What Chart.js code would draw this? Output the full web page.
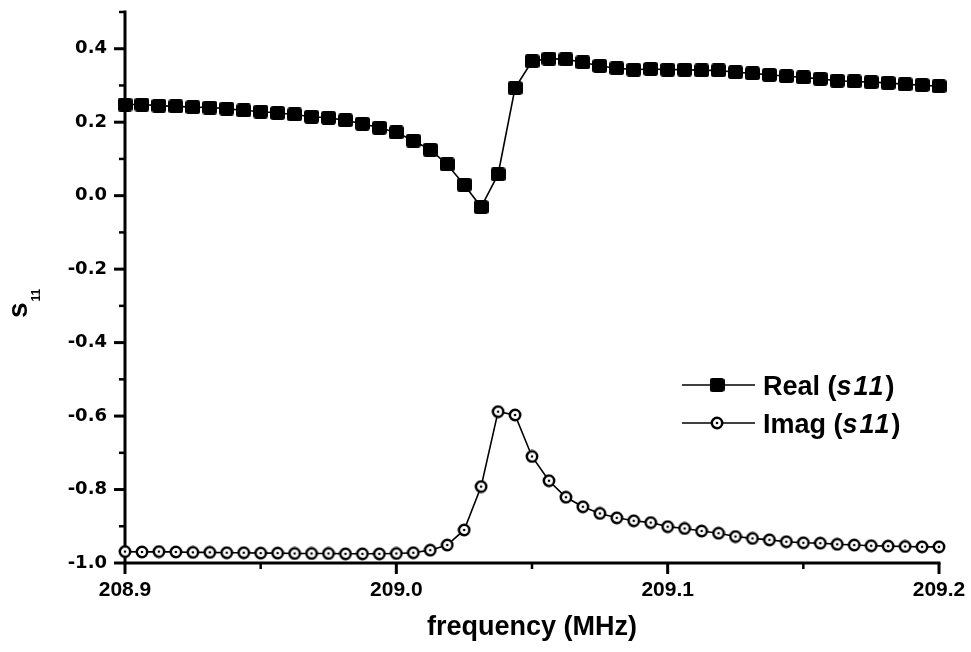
<!DOCTYPE html>
<html lang="en">
<head>
<meta charset="UTF-8">
<title>s11 vs frequency</title>
<script src="https://cdn.jsdelivr.net/npm/chart.js"></script>
<style>
  html, body { margin: 0; padding: 0; background: #fff; }
  #wrap { width: 971px; height: 652px; }
</style>
</head>
<body>
<div id="wrap"><canvas id="s11Chart" width="971" height="652"></canvas></div>
<script>
// frequency sweep (MHz)
const freq = [
  208.9, 208.90625, 208.9125, 208.91875, 208.925, 208.93125, 208.9375, 208.94375,
  208.95, 208.95625, 208.9625, 208.96875, 208.975, 208.98125, 208.9875, 208.99375,
  209.0, 209.00625, 209.0125, 209.01875, 209.025, 209.03125, 209.0375, 209.04375,
  209.05, 209.05625, 209.0625, 209.06875, 209.075, 209.08125, 209.0875, 209.09375,
  209.1, 209.10625, 209.1125, 209.11875, 209.125, 209.13125, 209.1375, 209.14375,
  209.15, 209.15625, 209.1625, 209.16875, 209.175, 209.18125, 209.1875, 209.19375,
  209.2
];

const realS11 = [
  0.248, 0.248, 0.245, 0.243, 0.241, 0.240, 0.237, 0.232,
  0.229, 0.225, 0.221, 0.215, 0.212, 0.205, 0.196, 0.185,
  0.172, 0.150, 0.125, 0.085, 0.030, -0.031, 0.058, 0.293,
  0.366, 0.373, 0.371, 0.363, 0.353, 0.347, 0.343, 0.345,
  0.343, 0.343, 0.341, 0.341, 0.336, 0.333, 0.329, 0.325,
  0.322, 0.318, 0.313, 0.311, 0.309, 0.307, 0.303, 0.301,
  0.298
];

const imagS11 = [
  -0.969, -0.970, -0.969, -0.970, -0.971, -0.971, -0.972, -0.972,
  -0.973, -0.973, -0.974, -0.974, -0.974, -0.975, -0.975, -0.975,
  -0.974, -0.972, -0.965, -0.951, -0.910, -0.792, -0.588, -0.597,
  -0.710, -0.776, -0.821, -0.847, -0.865, -0.877, -0.885, -0.890,
  -0.901, -0.906, -0.913, -0.919, -0.928, -0.933, -0.937, -0.942,
  -0.945, -0.946, -0.949, -0.951, -0.953, -0.954, -0.955, -0.956,
  -0.956
];

const xTickLabels = ['208.9', '209.0', '209.1', '209.2'];
const yTickLabels = ['-1.0', '-0.8', '-0.6', '-0.4', '-0.2', '0.0', '0.2', '0.4'];

const ARIAL = '"Liberation Sans", Arial, sans-serif';

// major ticks get a label, minor ones get ''
function labelFor(value, labels) {
  const hit = labels.find(l => Math.abs(parseFloat(l) - value) < 1e-6);
  return hit === undefined ? '' : hit;
}

// filled square marker with soft corners
const squareImg = document.createElement('canvas');
squareImg.width = 15; squareImg.height = 14;
(() => {
  const c = squareImg.getContext('2d');
  c.fillStyle = '#000';
  c.beginPath();
  c.roundRect(0, 0, 15, 14, 3);
  c.fill();
})();

// open circle with a dot in the middle
const circleImg = document.createElement('canvas');
circleImg.width = 14; circleImg.height = 14;
(() => {
  const c = circleImg.getContext('2d');
  c.fillStyle = '#fff';
  c.strokeStyle = '#000';
  c.lineWidth = 2.5;
  c.beginPath();
  c.arc(7, 7, 5.2, 0, Math.PI * 2);
  c.fill();
  c.stroke();
  c.fillStyle = '#000';
  c.beginPath();
  c.arc(7, 7, 1.3, 0, Math.PI * 2);
  c.fill();
})();

// axis lines + major/minor tick marks pointing outward
const axesPlugin = {
  id: 'axesLines',
  beforeDatasetsDraw(chart) {
    const { ctx, chartArea: a, scales: { x, y } } = chart;
    ctx.save();
    ctx.strokeStyle = '#000';
    ctx.lineWidth = 3;
    ctx.lineCap = 'square';
    ctx.beginPath();
    ctx.moveTo(a.left, a.top);
    ctx.lineTo(a.left, a.bottom);
    ctx.lineTo(a.right, a.bottom);
    ctx.stroke();
    ctx.lineCap = 'butt';
    y.ticks.forEach(t => {
      const py = y.getPixelForValue(t.value);
      const major = t.label !== '';
      ctx.lineWidth = major ? 3 : 2.5;
      ctx.beginPath();
      ctx.moveTo(a.left, py);
      ctx.lineTo(a.left - (major ? 11 : 6), py);
      ctx.stroke();
    });
    x.ticks.forEach(t => {
      const px = x.getPixelForValue(t.value);
      const major = t.label !== '';
      ctx.lineWidth = major ? 3 : 2.5;
      ctx.beginPath();
      ctx.moveTo(px, a.bottom);
      ctx.lineTo(px, a.bottom + (major ? 11 : 6));
      ctx.stroke();
    });
    ctx.restore();
  }
};

// rotated y title with subscript, and the legend box inside the plot
const labelsPlugin = {
  id: 'extraLabels',
  afterDraw(chart) {
    const ctx = chart.ctx;
    ctx.save();
    ctx.fillStyle = '#000';
    ctx.textBaseline = 'alphabetic';

    // s11 title
    ctx.save();
    ctx.translate(27, 318);
    ctx.rotate(-Math.PI / 2);
    ctx.font = 'bold 28px ' + ARIAL;
    ctx.fillText('s', 0, 0);
    const sw = ctx.measureText('s').width;
    ctx.font = 'bold 12px ' + ARIAL;
    ctx.fillText('11', sw + 1, 13);
    ctx.restore();

    // legend
    const items = [
      { name: 'Real', img: squareImg, cy: 385 },
      { name: 'Imag', img: circleImg, cy: 423 }
    ];
    items.forEach(it => {
      ctx.strokeStyle = '#000';
      ctx.lineWidth = 1.6;
      ctx.beginPath();
      ctx.moveTo(682, it.cy);
      ctx.lineTo(755, it.cy);
      ctx.stroke();
      ctx.drawImage(it.img, 717 - it.img.width / 2, it.cy - it.img.height / 2);

      let tx = 763;
      const base = it.cy + 10;
      ctx.font = 'bold 27px ' + ARIAL;
      ctx.fillText(it.name + ' (', tx, base);
      tx += ctx.measureText(it.name + ' (').width;
      ctx.font = 'italic bold 27px ' + ARIAL;
      ctx.letterSpacing = '2px';
      ctx.fillText('s11', tx, base);
      tx += ctx.measureText('s11').width;
      ctx.letterSpacing = '0px';
      ctx.font = 'bold 27px ' + ARIAL;
      ctx.fillText(')', tx, base);
    });
    ctx.restore();
  }
};

const toPoints = vals => freq.map((f, i) => ({ x: f, y: vals[i] }));

new Chart(document.getElementById('s11Chart'), {
  type: 'line',
  data: {
    datasets: [
      {
        label: 'Real (s11)',
        data: toPoints(realS11),
        borderColor: '#000',
        borderWidth: 1.6,
        pointStyle: squareImg,
        pointRadius: 7,
        tension: 0,
        clip: false
      },
      {
        label: 'Imag (s11)',
        data: toPoints(imagS11),
        borderColor: '#000',
        borderWidth: 1.6,
        pointStyle: circleImg,
        pointRadius: 7,
        tension: 0,
        clip: false
      }
    ]
  },
  options: {
    responsive: false,
    animation: false,
    events: [],
    layout: { padding: { top: 12, right: 32, left: 0, bottom: 0 } },
    plugins: {
      legend: { display: false },
      tooltip: { enabled: false }
    },
    scales: {
      x: {
        type: 'linear',
        min: 208.9,
        max: 209.2,
        afterFit: s => { s.height = 89; s.paddingLeft = 0; s.paddingRight = 0; },
        grid: { display: false, drawTicks: false },
        border: { display: false },
        ticks: {
          stepSize: 0.05,
          autoSkip: false,
          maxRotation: 0,
          padding: 15,
          color: '#000',
          font: { family: ARIAL, size: 21, weight: 'bold' },
          callback: v => labelFor(v, xTickLabels)
        },
        title: {
          display: true,
          text: 'frequency (MHz)',
          color: '#000',
          font: { family: ARIAL, size: 27, weight: 'bold' },
          padding: { top: 0, bottom: 8 }
        }
      },
      y: {
        type: 'linear',
        min: -1.0,
        max: 0.5,
        afterFit: s => { s.width = 125; s.paddingTop = 0; s.paddingBottom = 0; },
        grid: { display: false, drawTicks: false },
        border: { display: false },
        ticks: {
          stepSize: 0.1,
          autoSkip: false,
          padding: 18,
          color: '#000',
          font: { family: '"DejaVu Sans", sans-serif', size: 18, weight: 'bold' },
          callback: v => labelFor(v, yTickLabels)
        }
      }
    }
  },
  plugins: [axesPlugin, labelsPlugin]
});
</script>
</body>
</html>
